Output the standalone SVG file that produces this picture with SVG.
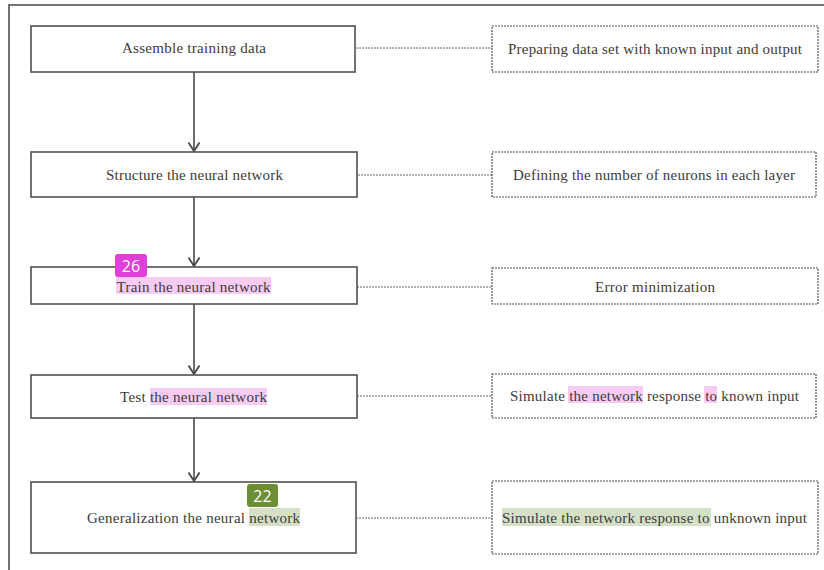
<svg xmlns="http://www.w3.org/2000/svg" width="824" height="570" viewBox="0 0 824 570">
<defs>
<style>
.box{fill:#fff;stroke:#505050;stroke-width:1.6}
.note{fill:#fff;stroke:#555;stroke-width:1.2;stroke-dasharray:2 1}
.lbl{font-family:"Liberation Serif","Times New Roman",serif;font-size:15px;fill:#3c3c3c;text-anchor:middle}
.conn{stroke:#4a4a4a;stroke-width:1.6;fill:none;marker-end:url(#arr)}
.dot{stroke:#666;stroke-width:1;stroke-dasharray:2 1;fill:none}
.hp{fill:#f7cbf2}
.hg{fill:#d6e0c6}
.badge{font-family:"Open Sans","Noto Sans",sans-serif;font-size:16px;fill:#fff;text-anchor:middle}
</style>
<marker id="arr" viewBox="0 0 12 12" refX="10" refY="6" markerWidth="12" markerHeight="12" markerUnits="userSpaceOnUse" orient="auto">
<path d="M1.5,0.5 L10,6 L1.5,11.5" fill="none" stroke="#4a4a4a" stroke-width="1.8"/>
</marker>
</defs>
<rect width="824" height="570" fill="#fff"/>
<rect x="9" y="5" width="840" height="600" fill="none" stroke="#505050" stroke-width="1.6"/>

<g id="connectors">
<line class="conn" x1="194" y1="72" x2="194" y2="151"/>
<line class="conn" x1="194" y1="197" x2="194" y2="266"/>
<line class="conn" x1="194" y1="304" x2="194" y2="374"/>
<line class="conn" x1="194" y1="418" x2="194" y2="481"/>
<line class="dot" x1="356" y1="48" x2="492" y2="48"/>
<line class="dot" x1="358" y1="175" x2="492" y2="175"/>
<line class="dot" x1="357" y1="287" x2="492" y2="287"/>
<line class="dot" x1="357" y1="396" x2="492" y2="396"/>
<line class="dot" x1="356" y1="518" x2="492" y2="518"/>
</g>

<g id="step1">
<rect class="box" x="31" y="26" width="324" height="46"/>
<text class="lbl" x="194" y="53" textLength="144" lengthAdjust="spacing">Assemble training data</text>
</g>
<g id="step2">
<rect class="box" x="31" y="152" width="326" height="45"/>
<text class="lbl" x="194.5" y="180" textLength="177" lengthAdjust="spacing">Structure the neural network</text>
</g>
<g id="step3">
<rect class="box" x="31" y="267" width="326" height="37"/>
<rect class="hp" x="116" y="277" width="155" height="17"/>
<text class="lbl" x="193.5" y="292" textLength="154" lengthAdjust="spacing">Train the neural network</text>
</g>
<g id="step4">
<rect class="box" x="31" y="375" width="326" height="43"/>
<rect class="hp" x="150" y="388" width="117" height="17"/>
<text class="lbl" x="193.5" y="402" textLength="147" lengthAdjust="spacing">Test the neural network</text>
</g>
<g id="step5">
<rect class="box" x="31" y="482" width="325" height="71"/>
<rect class="hg" x="249" y="508" width="51" height="18"/>
<text class="lbl" x="193.5" y="523" textLength="213" lengthAdjust="spacing">Generalization the neural network</text>
</g>

<g id="note1">
<rect class="note" x="492" y="26" width="326" height="46"/>
<text class="lbl" x="655" y="54" textLength="294" lengthAdjust="spacing">Preparing data set with known input and output</text>
</g>
<g id="note2">
<rect class="note" x="492" y="152" width="324" height="45"/>
<text class="lbl" x="654" y="180" textLength="282" lengthAdjust="spacing">Defining the number of neurons in each layer</text>
</g>
<g id="note3">
<rect class="note" x="492" y="268" width="326" height="36"/>
<text class="lbl" x="655" y="292" textLength="120" lengthAdjust="spacing">Error minimization</text>
</g>
<g id="note4">
<rect class="note" x="492" y="374" width="324" height="44"/>
<rect class="hp" x="568" y="386" width="75" height="17"/>
<rect class="hp" x="704" y="386" width="13" height="17"/>
<text class="lbl" x="654.5" y="401" textLength="289" lengthAdjust="spacing">Simulate the network response to known input</text>
</g>
<g id="note5">
<rect class="note" x="492" y="481" width="326" height="73"/>
<rect class="hg" x="502" y="508" width="209" height="18"/>
<text class="lbl" x="654.5" y="523" textLength="305" lengthAdjust="spacing">Simulate the network response to unknown input</text>
</g>

<g id="badge26">
<rect x="115" y="254" width="32" height="23" rx="3" fill="#e23fd8"/>
<text class="badge" x="131" y="271.5">26</text>
</g>
<g id="badge22">
<rect x="247" y="484" width="31" height="23" rx="3" fill="#6c8f35"/>
<text class="badge" x="262.5" y="501.5">22</text>
</g>
</svg>
